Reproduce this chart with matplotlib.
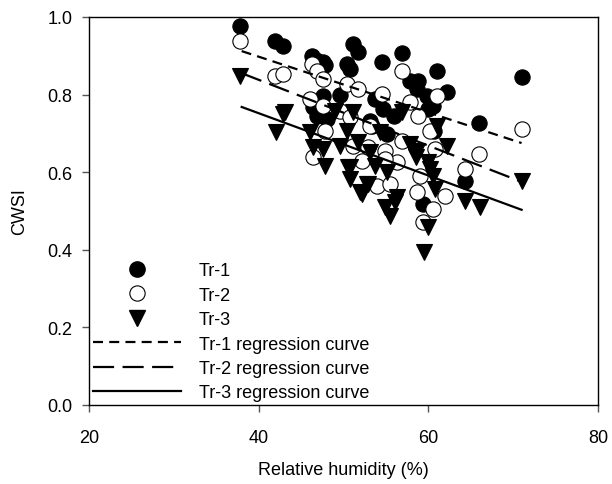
import matplotlib
matplotlib.use("Agg")
import matplotlib.pyplot as plt
from matplotlib.lines import Line2D

plt.rcParams['font.family'] = ['Liberation Sans', 'DejaVu Sans']
plt.rcParams['font.size'] = 13

# Tr-1 (filled circles)
x1 = [37.8, 41.9, 42.9, 46.3, 46.8, 47.6, 47.8, 51.1, 51.7, 50.4, 50.8, 54.6, 56.9,
      61.0, 57.9, 58.8, 58.7, 62.2, 71.1, 59.9, 60.6, 60.0, 47.6, 49.6, 46.4, 46.9,
      48.1, 53.7, 54.7, 53.1, 53.4, 55.1, 66.0, 64.3, 59.4, 60.7, 56.0]
y1 = [0.977, 0.938, 0.925, 0.899, 0.890, 0.884, 0.875, 0.930, 0.910, 0.879, 0.866,
      0.884, 0.907, 0.861, 0.835, 0.835, 0.814, 0.807, 0.845, 0.796, 0.771, 0.763,
      0.796, 0.800, 0.768, 0.745, 0.737, 0.789, 0.763, 0.732, 0.719, 0.698, 0.727,
      0.577, 0.518, 0.705, 0.745]

# Tr-2 (open circles)
x2 = [37.8, 41.9, 42.9, 46.3, 46.9, 47.6, 50.4, 51.7, 54.6, 56.9, 61.0, 57.9, 58.8,
      60.2, 46.1, 47.6, 49.6, 50.8, 47.8, 53.1, 56.9, 51.1, 52.9, 54.9, 56.3, 52.2,
      54.9, 46.4, 60.8, 66.0, 64.3, 71.1, 54.0, 55.5, 58.7, 62.0, 60.6, 59.4, 59.0]
y2 = [0.938, 0.848, 0.853, 0.879, 0.861, 0.840, 0.827, 0.814, 0.802, 0.861, 0.796,
      0.781, 0.745, 0.706, 0.789, 0.771, 0.758, 0.742, 0.706, 0.719, 0.681, 0.668,
      0.665, 0.655, 0.626, 0.629, 0.634, 0.639, 0.660, 0.647, 0.608, 0.711, 0.564,
      0.570, 0.549, 0.539, 0.505, 0.472, 0.590]

# Tr-3 (filled down triangles)
x3 = [37.8, 42.9, 42.0, 43.1, 49.0, 51.1, 56.9, 61.0, 46.1, 50.4, 54.3, 51.7, 46.4,
      47.6, 49.6, 53.1, 57.9, 58.7, 62.2, 47.8, 50.8, 53.7, 55.1, 60.0, 60.2, 71.1,
      52.0, 52.8, 56.3, 60.8, 64.3, 66.1, 50.5, 50.8, 52.9, 52.2, 54.9, 56.1, 55.5,
      60.6, 60.0, 59.5, 58.5]
y3 = [0.848, 0.750, 0.703, 0.755, 0.758, 0.755, 0.755, 0.719, 0.703, 0.706, 0.703,
      0.678, 0.665, 0.660, 0.668, 0.652, 0.673, 0.655, 0.668, 0.616, 0.613, 0.616,
      0.600, 0.626, 0.608, 0.577, 0.549, 0.570, 0.536, 0.557, 0.526, 0.510, 0.613,
      0.582, 0.570, 0.544, 0.510, 0.523, 0.487, 0.590, 0.459, 0.394, 0.640]

# regression curve end points
reg_x = [38, 71]
reg1 = [0.912, 0.675]
reg2 = [0.855, 0.575]
reg3 = [0.768, 0.503]

fig = plt.figure(figsize=(6.12, 4.85), dpi=100)
ax = fig.add_axes([0.1454, 0.163, 0.977 - 0.1454, 0.963 - 0.163])

ms = 11
ax.plot(x1, y1, 'o', ms=ms, mfc='black', mec='black', mew=0.8, ls='none')
ax.plot(x2, y2, 'o', ms=ms, mfc='white', mec='black', mew=0.8, ls='none')
ax.plot(x3, y3, 'v', ms=ms, mfc='black', mec='black', mew=0.8, ls='none')

lw = 1.6
ax.plot(reg_x, reg1, color='black', lw=lw, dashes=(4.5, 2.8))
ax.plot(reg_x, reg2, color='black', lw=lw, dashes=(9.5, 3.8))
ax.plot(reg_x, reg3, color='black', lw=lw)

ax.set_xlim(20, 80)
ax.set_ylim(0, 1.0)
ax.set_xticks([20, 40, 60, 80])
ax.set_yticks([0.0, 0.2, 0.4, 0.6, 0.8, 1.0])
ax.set_yticklabels(['0.0', '0.2', '0.4', '0.6', '0.8', '1.0'])
ax.tick_params(direction='out', length=5, width=1, color='#555555')
ax.tick_params(axis='x', pad=12)
ax.tick_params(axis='y', pad=7)
ax.set_xlabel('Relative humidity (%)', labelpad=11)
ax.set_ylabel('CWSI', labelpad=14)
for s in ax.spines.values():
    s.set_linewidth(1)

handles = [
    Line2D([], [], marker='o', ls='none', ms=ms, mfc='black', mec='black'),
    Line2D([], [], marker='o', ls='none', ms=ms, mfc='white', mec='black', mew=0.8),
    Line2D([], [], marker='v', ls='none', ms=ms, mfc='black', mec='black'),
    Line2D([], [], color='black', lw=lw, dashes=(4.5, 2.8)),
    Line2D([], [], color='black', lw=lw, dashes=(9.5, 3.8)),
    Line2D([], [], color='black', lw=lw),
]
labels = ['Tr-1', 'Tr-2', 'Tr-3', 'Tr-1 regression curve',
          'Tr-2 regression curve', 'Tr-3 regression curve']
ax.legend(handles, labels, loc='lower left', bbox_to_anchor=(0.0, 0.0),
          frameon=False, handlelength=4.9, handletextpad=1.0,
          labelspacing=0.41, borderpad=0.05, borderaxespad=0.15, fontsize=13)

fig.savefig('out.png', dpi=100)
